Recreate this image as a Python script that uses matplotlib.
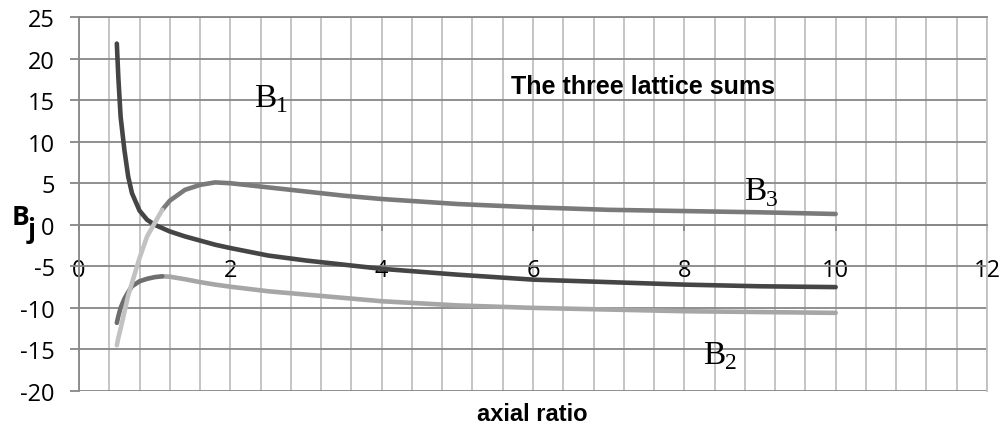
import numpy as np
import matplotlib
matplotlib.use("Agg")
import matplotlib.pyplot as plt

# axial ratio samples and the three lattice sums read at them
axial_ratio = [0.5, 0.52, 0.55, 0.6, 0.65, 0.7, 0.8, 0.9, 1.0, 1.1, 1.2, 1.4, 1.6, 1.8,
               2.0, 2.5, 3.0, 3.5, 4.0, 5.0, 6.0, 7.0, 8.0, 9.0, 10.0]
B1 = [21.8, 17.7, 13.0, 9.0, 5.8, 3.8, 1.7, 0.6, 0.0, -0.4, -0.8, -1.4, -1.9, -2.4,
      -2.8, -3.7, -4.3, -4.8, -5.3, -6.0, -6.6, -6.9, -7.2, -7.4, -7.5]
B2 = [-11.8, -11.0, -10.0, -8.9, -8.1, -7.4, -6.8, -6.5, -6.3, -6.2, -6.25, -6.55, -6.9, -7.2,
      -7.45, -8.0, -8.4, -8.8, -9.2, -9.7, -10.0, -10.2, -10.4, -10.5, -10.6]
B3 = [-14.5, -13.6, -12.5, -10.5, -8.5, -7.0, -4.0, -1.4, 0.2, 1.8, 2.9, 4.2, 4.8, 5.1,
      5.0, 4.5, 4.0, 3.5, 3.1, 2.5, 2.1, 1.8, 1.65, 1.5, 1.3]
split_at = 1.1  # small-ratio branch drawn in its own shade

x_ticks = [0, 2, 4, 6, 8, 10, 12]
y_ticks = [-20, -15, -10, -5, 0, 5, 10, 15, 20, 25]

SANS = ["Open Sans", "DejaVu Sans"]
NARROW = ["Liberation Sans Narrow", "Liberation Sans", "DejaVu Sans"]
SERIF = ["Liberation Serif", "DejaVu Serif"]
DARK_GRID = "#878787"
LIGHT_GRID = "#c0c0c0"

fig = plt.figure(figsize=(10.01, 4.31), dpi=100)
ax = fig.add_axes([79 / 1001, 39 / 431, 908 / 1001, 374 / 431])

# move the x axis onto y = 0 first: this resets the tick setup
ax.spines["bottom"].set_position(("data", 0))

x = np.array(axial_ratio)
k = int(np.searchsorted(x, split_at)) + 1
line_kw = dict(lw=3.3, solid_capstyle="round", solid_joinstyle="round", zorder=3)
ax.plot(x, B1, color="#454545", **line_kw)
ax.plot(x[k - 1:], np.array(B2)[k - 1:], color="#a6a6a6", **line_kw)
ax.plot(x[:k], np.array(B2)[:k], color="#6e6e6e", **line_kw)
ax.plot(x[k - 1:], np.array(B3)[k - 1:], color="#7a7a7a", **line_kw)
ax.plot(x[:k], np.array(B3)[:k], color="#c2c2c2", **line_kw)

ax.set_xlim(0, 12)
ax.set_ylim(-20, 25)
ax.set_xticks(x_ticks)
ax.set_xticks(np.arange(0, 12.01, 0.4), minor=True)
ax.set_yticks(y_ticks)
ax.set_xticklabels([str(t) for t in x_ticks], family=SANS, fontsize=17)
ax.set_yticklabels([str(t) for t in y_ticks], family=SANS, fontsize=17)

ax.xaxis.grid(True, which="both", color=LIGHT_GRID, lw=1.3, zorder=1)
ax.yaxis.grid(True, which="major", color=DARK_GRID, lw=1.3, zorder=1)
ax.set_axisbelow(True)

ax.spines["bottom"].set_color(DARK_GRID)
ax.spines["left"].set_color(DARK_GRID)
ax.spines["top"].set_color(DARK_GRID)
ax.spines["right"].set_color(LIGHT_GRID)
for s in ax.spines.values():
    s.set_linewidth(1.3)

ax.tick_params(axis="x", which="major", direction="out", length=4, width=1.3,
               color=DARK_GRID, pad=20)
ax.tick_params(axis="x", which="minor", length=0)
ax.tick_params(axis="y", direction="out", length=6.5, width=1.3,
               color=DARK_GRID, pad=11)

fig.text(532 / 1001, 1 - 415 / 431, "axial ratio", ha="center", va="center",
         family=NARROW, fontweight="bold", fontsize=17)
fig.text(12 / 1001, 1 - 218 / 431, "B", ha="left", va="center",
         family=SANS, fontweight="bold", fontsize=19)
fig.text(28 / 1001, 1 - 231 / 431, "j", ha="left", va="center",
         family=SANS, fontweight="bold", fontsize=19)

ax.text(7.46, 16.7, "The three lattice sums", ha="center", va="center",
        family=NARROW, fontweight="bold", fontsize=18)


def sub_label(xd, yd, num):
    t = ax.text(xd, yd, "B", ha="left", va="center", family=SERIF, fontsize=24)
    fig.canvas.draw()
    bb = t.get_window_extent()
    xr = ax.transData.inverted().transform((bb.x1, bb.y0))[0]
    ax.text(xr, yd - 1.0, num, ha="left", va="center", family=SERIF, fontsize=17)


sub_label(2.31, 15.3, "1")
sub_label(8.25, -15.6, "2")
sub_label(8.79, 4.1, "3")

fig.savefig("out.png", dpi=100)
